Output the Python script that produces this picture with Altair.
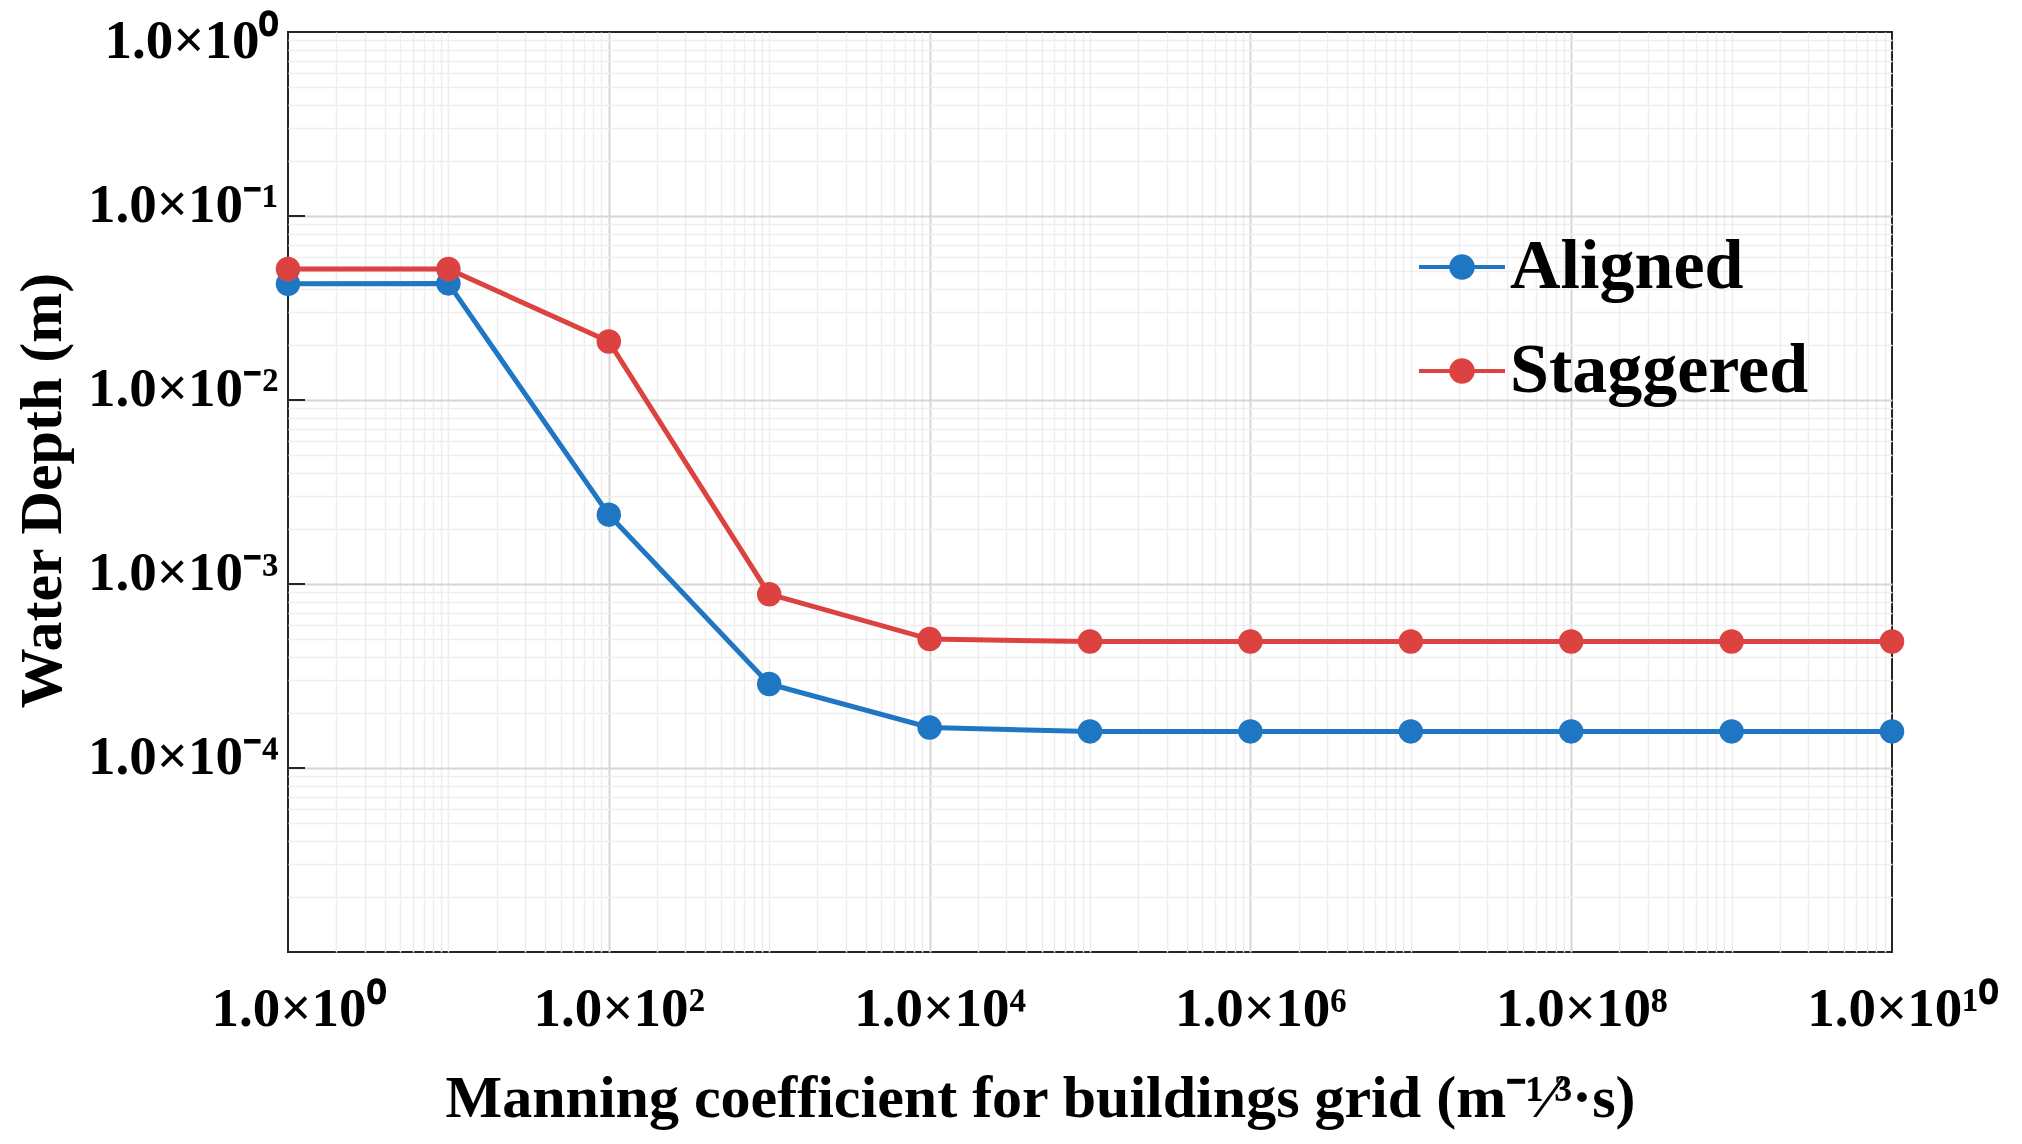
import altair as alt
import pandas as pd

# ---------------- data ----------------
manning = [1, 10, 100, 1000, 1e4, 1e5, 1e6, 1e7, 1e8, 1e9, 1e10]
aligned = [0.0428, 0.0430, 0.00238, 0.000286, 0.000166, 0.000158, 0.000158,
           0.000158, 0.000158, 0.000158, 0.000158]
staggered = [0.0515, 0.0515, 0.0208, 0.00088, 0.000502, 0.000487, 0.000487,
             0.000487, 0.000487, 0.000487, 0.000487]
series_names = ["Aligned", "Staggered"]
series_colors = ["#1f77c4", "#dc4340"]

x_label_exps = [0, 2, 4, 6, 8, 10]
y_label_exps = [0, -1, -2, -3, -4]
y_tick_marks = [1e-1, 1e-2, 1e-3, 1e-4]

x_title = "Manning coefficient for buildings grid (m\u207b\u00b9\u2044\u00b3\u00b7s)"
y_title = "Water Depth (m)"

SUP = str.maketrans("0123456789-", "⁰¹²³⁴⁵⁶⁷⁸⁹⁻")


def sci(e):
    return "1.0×10" + str(e).translate(SUP)


df = pd.DataFrame({
    "x": manning * 2,
    "y": aligned + staggered,
    "series": [series_names[0]] * len(manning) + [series_names[1]] * len(manning),
})
ticks_df = pd.DataFrame({"v": y_tick_marks})

# grid values (all log minor positions)
x_vals = [m * 10 ** k for k in range(0, 10) for m in range(1, 10)] + [10 ** 10]
y_vals = [m * 10.0 ** k for k in range(-5, 0) for m in range(1, 10)] + [1.0]

LOG = "(log(datum.value)/LN10)"
MAJOR = f"(abs({LOG} - round({LOG})) < 0.000001)"
X_MAJOR = f"({MAJOR} && (round({LOG}) % 2 == 0))"
X_EDGE = "(datum.value <= 1.0001 || datum.value >= 9.999e9)"
Y_EDGE = "(datum.value <= 1.0001e-5 || datum.value >= 0.9999)"


def label_expr(exps, test):
    chain = " : ".join(f"round({LOG}) == {e} ? '{sci(e)}'" for e in exps) + " : ''"
    return f"{test} ? ({chain}) : ''"


FONT = "Liberation Serif"
MAJOR_GRID = "#d6d6d6"
MINOR_GRID = "#eeeeee"

xscale = alt.Scale(type="log", domain=[1, 1e10], nice=False)
yscale = alt.Scale(type="log", domain=[1e-5, 1], nice=False)

x_axis = alt.Axis(
    values=x_vals,
    labelExpr=label_expr(x_label_exps, X_MAJOR),
    grid=True,
    gridColor={"condition": {"test": X_MAJOR, "value": MAJOR_GRID}, "value": MINOR_GRID},
    gridWidth={"condition": {"test": X_MAJOR, "value": 2}, "value": 1.5},
    gridOpacity={"condition": {"test": X_EDGE, "value": 0}, "value": 1},
    ticks=False, tickSize=0, domain=False,
    labelFont=FONT, labelFontSize=55, labelFontWeight="bold", labelColor="black",
    labelBaseline="top", labelAlign="center", labelPadding=30, labelOffset=10,
    labelFlush=False, labelOverlap=False, labelBound=False, labelLimit=500,
    title=x_title, titleFont=FONT, titleFontSize=60, titleFontWeight="bold",
    titleColor="black", titleX=752, titleY=164, titleBaseline="alphabetic",
    titleAlign="center", titleLimit=2000,
)

y_axis = alt.Axis(
    values=y_vals,
    labelExpr=label_expr(y_label_exps, MAJOR),
    grid=True,
    gridColor={"condition": {"test": MAJOR, "value": MAJOR_GRID}, "value": MINOR_GRID},
    gridWidth={"condition": {"test": MAJOR, "value": 2}, "value": 1.5},
    gridOpacity={"condition": {"test": Y_EDGE, "value": 0}, "value": 1},
    ticks=False, tickSize=0, domain=False,
    labelFont=FONT, labelFontSize=55, labelFontWeight="bold", labelColor="black",
    labelBaseline="middle", labelAlign="right", labelPadding=10,
    labelOffset={"condition": {"test": "datum.value >= 0.99", "value": 8}, "value": -12},
    labelFlush=False, labelOverlap=False, labelBound=False, labelLimit=500,
    title=y_title, titleFont=FONT, titleFontSize=60, titleFontWeight="bold",
    titleColor="black", titleAngle=270, titleX=-228, titleY=458,
    titleBaseline="alphabetic", titleAlign="center", titleLimit=2000,
)

legend_path = ("M-1,0H1M-0.25,0A0.25,0.25,0,1,1,0.25,0"
               "A0.25,0.25,0,1,1,-0.25,0Z")
legend = alt.Legend(
    title=None, orient="none", legendX=1129, legendY=190,
    symbolType=legend_path, symbolSize=7396, symbolStrokeWidth=4,
    symbolOpacity=1,
    labelFont=FONT, labelFontSize=70, labelFontWeight="bold", labelColor="black",
    labelOffset=3, rowPadding=24, labelLimit=600,
)

X = alt.X("x:Q", scale=xscale, axis=x_axis)
Y = alt.Y("y:Q", scale=yscale, axis=y_axis)
C = alt.Color("series:N", scale=alt.Scale(domain=series_names, range=series_colors),
              legend=legend)

base = alt.Chart(df).encode(x=X, y=Y, color=C)
lines = base.mark_line(strokeWidth=5)
points = base.mark_point(filled=True, size=600, opacity=1)

tick_rules = alt.Chart(ticks_df).mark_rule(color="#262626", strokeWidth=2).encode(
    y=alt.Y("v:Q", scale=yscale, axis=y_axis),
    x=alt.value(0), x2=alt.value(17),
)

chart = alt.layer(lines, points, tick_rules).properties(
    width=1604, height=920,
    autosize=alt.AutoSizeParams(type="none"),
    padding={"left": 280, "top": 24, "right": 110, "bottom": 190},
    background="white",
).configure_view(stroke="#262626", strokeWidth=2)

chart.save("out.html", embed_options={"renderer": "svg", "actions": False})
